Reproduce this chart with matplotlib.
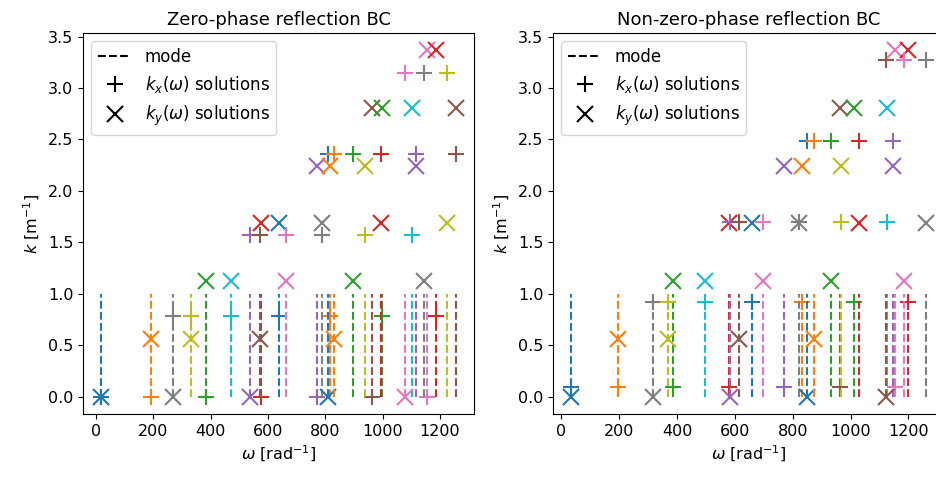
import numpy as np
import matplotlib
matplotlib.use("Agg")
import matplotlib.pyplot as plt
from matplotlib.lines import Line2D

# 零相位反射边界: 每个模态的 omega, kx, ky
omega_zero = [17.0, 192.4, 384.8, 577.3, 769.7, 962.1, 1154.5,
              269.4, 331.1, 469.8, 637.0, 815.5, 999.1, 1185.6,
              538.8, 572.1, 662.1, 789.6, 939.5, 1102.7,
              808.2, 830.8, 895.1, 993.2, 1116.1, 1256.5,
              1077.6, 1144.2, 1222.5]
kx_zero = [0.0, 0.0, 0.0, 0.0, 0.0, 0.0, 0.0,
           0.785, 0.785, 0.785, 0.785, 0.785, 0.785, 0.785,
           1.571, 1.571, 1.571, 1.571, 1.571, 1.571,
           2.356, 2.356, 2.356, 2.356, 2.356, 2.356,
           3.142, 3.142, 3.142]
ky_zero = [0.0, 0.561, 1.122, 1.683, 2.244, 2.805, 3.366,
           0.0, 0.561, 1.122, 1.683, 2.244, 2.805, 3.366,
           0.0, 0.561, 1.122, 1.683, 2.244, 2.805,
           0.0, 0.561, 1.122, 1.683, 2.244, 2.805,
           0.0, 1.122, 1.683]

# 非零相位反射边界
omega_nonzero = [32.6, 195.2, 386.2, 578.2, 770.4, 962.7, 1155.0,
                 315.6, 369.6, 497.7, 657.9, 831.9, 1012.5, 1196.9,
                 583.1, 614.0, 698.7, 820.5, 965.6, 1125.0,
                 850.6, 872.1, 933.6, 1028.0, 1147.2,
                 1121.6, 1185.8, 1261.5]
kx_nonzero = [0.095, 0.095, 0.095, 0.095, 0.095, 0.095, 0.095,
              0.92, 0.92, 0.92, 0.92, 0.92, 0.92, 0.92,
              1.70, 1.70, 1.70, 1.70, 1.70, 1.70,
              2.48, 2.48, 2.48, 2.48, 2.48,
              3.27, 3.27, 3.27]
ky_nonzero = [0.0, 0.561, 1.122, 1.683, 2.244, 2.805, 3.366,
              0.0, 0.561, 1.122, 1.683, 2.244, 2.805, 3.366,
              0.0, 0.561, 1.122, 1.683, 2.244, 2.805,
              0.0, 0.561, 1.122, 1.683, 2.244,
              0.0, 1.122, 1.683]

titles = ['Zero-phase reflection BC', 'Non-zero-phase reflection BC']


def plot_modes(ax, omegas, kxs, kys, title):
    for i, (w, kx, ky) in enumerate(zip(omegas, kxs, kys)):
        c = 'C%d' % (i % 10)
        ax.plot([w, w], [0, 1], '--', color=c, lw=1.5)
        ax.plot(w, kx, '+', color=c, ms=12, mew=1.5)
        ax.plot(w, ky, 'x', color=c, ms=12, mew=1.5)
    handles = [Line2D([], [], color='k', ls='--', lw=1.5),
               Line2D([], [], color='k', ls='none', marker='+', ms=12, mew=1.5),
               Line2D([], [], color='k', ls='none', marker='x', ms=12, mew=1.5)]
    ax.legend(handles, ['mode', r'$k_x(\omega)$ solutions', r'$k_y(\omega)$ solutions'],
              loc='upper left', fontsize=12)
    ax.set_title(title, fontsize=13)
    ax.set_xlabel(r'$\omega$ [rad$^{-1}$]', fontsize=11.5)
    ax.set_ylabel(r'$k$ [m$^{-1}$]', fontsize=11.5)
    ax.tick_params(labelsize=11.5)


fig = plt.figure(figsize=(9.37, 4.78), dpi=100)
ax1 = fig.add_axes([0.0886, 0.134, 0.4173, 0.797])
ax2 = fig.add_axes([0.5902, 0.134, 0.4173, 0.797])

plot_modes(ax1, omega_zero, kx_zero, ky_zero, titles[0])
plot_modes(ax2, omega_nonzero, kx_nonzero, ky_nonzero, titles[1])

plt.savefig('out.png', dpi=100)
